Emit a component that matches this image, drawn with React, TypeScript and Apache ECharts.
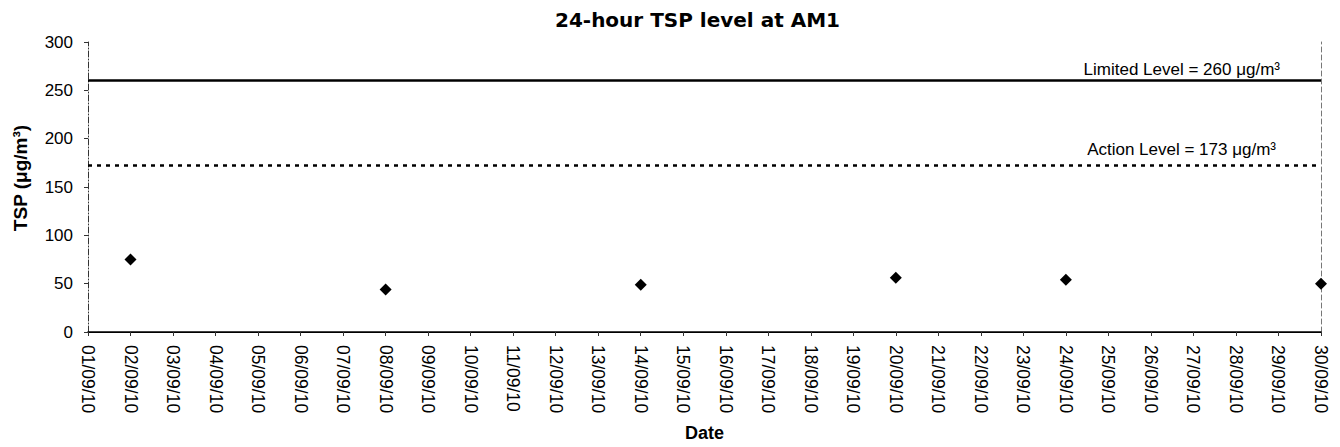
import React, { useEffect, useRef } from "react";
import * as echarts from "echarts";

const dates = [
  "01/09/10", "02/09/10", "03/09/10", "04/09/10", "05/09/10", "06/09/10",
  "07/09/10", "08/09/10", "09/09/10", "10/09/10", "11/09/10", "12/09/10",
  "13/09/10", "14/09/10", "15/09/10", "16/09/10", "17/09/10", "18/09/10",
  "19/09/10", "20/09/10", "21/09/10", "22/09/10", "23/09/10", "24/09/10",
  "25/09/10", "26/09/10", "27/09/10", "28/09/10", "29/09/10", "30/09/10",
];
const sampleDates = ["02/09/10", "08/09/10", "14/09/10", "20/09/10", "24/09/10", "30/09/10"];
const tspValues = [75, 44, 49, 56, 54, 50];
const limitLevel = 260;
const actionLevel = 173;
const yTicks = { min: 0, max: 300, interval: 50 };

const FONT = "'Liberation Sans', Arial, sans-serif";

export default function App() {
  const ref = useRef<HTMLDivElement>(null);
  useEffect(() => {
    document.body.style.margin = "0";
    if (!ref.current) return;
    const chart = echarts.init(ref.current, null, { renderer: "svg" });
    const scatterData = sampleDates.map((d, i) => [d, tspValues[i]]);
    chart.setOption({
      animation: false,
      backgroundColor: "#ffffff",
      title: {
        text: "24-hour TSP level at AM1",
        left: 555,
        top: 10,
        padding: 0,
        textStyle: {
          fontFamily: "'DejaVu Sans', sans-serif",
          fontWeight: "bold",
          fontSize: 20,
          color: "#000",
        },
      },
      grid: { left: 88, right: 19, top: 42, bottom: 106, containLabel: false },
      xAxis: [
        {
          type: "category",
          data: dates,
          boundaryGap: false,
          name: "Date",
          nameLocation: "middle",
          nameGap: 92,
          nameTextStyle: { fontFamily: FONT, fontWeight: "bold", fontSize: 18, color: "#000" },
          axisLine: { lineStyle: { color: "#000", width: 1.5 } },
          axisTick: { show: true, length: 4, lineStyle: { color: "#333" } },
          axisLabel: {
            rotate: -90,
            interval: 0,
            margin: 13,
            fontFamily: FONT,
            fontSize: 17.5,
            color: "#000",
          },
          splitLine: { show: false },
        },
        {
          type: "category",
          data: dates,
          boundaryGap: false,
          position: "top",
          axisLine: { show: true, lineStyle: { color: "#000", width: 1 } },
          axisTick: { show: false },
          axisLabel: { show: false },
          splitLine: { show: false },
        },
      ],
      yAxis: [
        {
          type: "value",
          min: yTicks.min,
          max: yTicks.max,
          interval: yTicks.interval,
          name: "TSP (μg/m³)",
          nameLocation: "middle",
          nameGap: 58,
          nameTextStyle: {
            fontFamily: FONT,
            fontWeight: "bold",
            fontSize: 19,
            color: "#000",
            padding: [0, 0, 0, 18],
          },
          axisLine: { show: true, lineStyle: { color: "#333", width: 1, type: [6, 2, 1, 2] } },
          axisTick: { show: true, length: 4, lineStyle: { color: "#333" } },
          axisLabel: { fontFamily: FONT, fontSize: 17, color: "#000", margin: 15 },
          splitLine: { show: false },
        },
        {
          type: "value",
          min: yTicks.min,
          max: yTicks.max,
          interval: yTicks.interval,
          position: "right",
          axisLine: { show: true, lineStyle: { color: "#777", width: 1, type: [5, 3] } },
          axisTick: { show: false },
          axisLabel: { show: false },
          splitLine: { show: false },
        },
      ],
      series: [
        {
          type: "scatter",
          data: scatterData,
          symbol: "diamond",
          symbolSize: 12,
          clip: false,
          itemStyle: { color: "#000", opacity: 1 },
          markLine: {
            silent: true,
            symbol: ["none", "none"],
            data: [
              {
                yAxis: limitLevel,
                lineStyle: { color: "#000", width: 2.5, type: "solid", opacity: 1 },
                label: {
                  show: true,
                  position: "insideEndTop",
                  formatter: "Limited Level = " + limitLevel + " μg/m³",
                  fontFamily: FONT,
                  fontSize: 17,
                  color: "#000",
                  padding: [0, 38, 0, 0],
                  distance: 3,
                },
              },
              {
                yAxis: actionLevel,
                lineStyle: { color: "#000", width: 2.5, type: [4, 5], opacity: 1 },
                label: {
                  show: true,
                  position: "insideEndTop",
                  formatter: "Action Level = " + actionLevel + " μg/m³",
                  fontFamily: FONT,
                  fontSize: 17,
                  color: "#000",
                  padding: [0, 38, 0, 0],
                  distance: 7,
                },
              },
            ],
          },
        },
      ],
    });
    return () => chart.dispose();
  }, []);
  return <div ref={ref} style={{ width: 1340, height: 447 }} />;
}
